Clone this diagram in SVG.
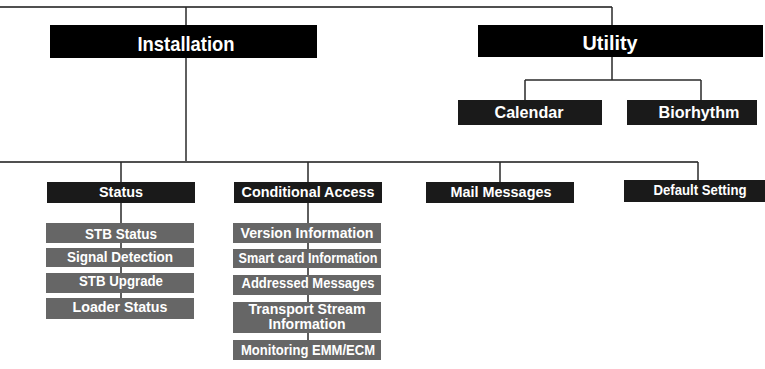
<svg xmlns="http://www.w3.org/2000/svg" width="765" height="369" viewBox="0 0 765 369">
<style>
.ln{stroke:#2a2a2a;stroke-width:1.5;fill:none}
.hl{stroke:#505050;stroke-width:2;fill:none}
.bk{fill:#000}
.dk{fill:#1a1a1a}
.gr{fill:#666}
text{font-family:"Liberation Sans",Arial,sans-serif;font-weight:bold;fill:#fff;text-anchor:middle}
.t1{font-size:21px}
.t2{font-size:16.5px}
.t3{font-size:15px}
.t4{font-size:14px}
</style>
<rect width="765" height="369" fill="#fff"/>
<g id="connectors">
<path class="hl" d="M0 7 H612"/>
<path class="ln" d="M612 7 V25"/>
<path class="ln" d="M186 7 V162"/>
<path class="ln" d="M612 57 V80 M525 80 H701 M525 80 V100 M701 80 V100"/>
<path class="hl" d="M0 162 H698"/>
<path class="ln" d="M698 162 V180"/>
<path class="ln" d="M121 162 V182 M121 203 V298"/>
<path class="ln" d="M308 162 V182 M308 203 V340"/>
<path class="ln" d="M500 162 V182"/>
</g>
<g id="installation"><rect class="bk" x="50" y="25" width="267" height="33"/><text class="t1" x="186" y="51" textLength="97" lengthAdjust="spacingAndGlyphs">Installation</text></g>
<g id="utility"><rect class="bk" x="478" y="25" width="285" height="32"/><text class="t1" x="610" y="50" textLength="55" lengthAdjust="spacingAndGlyphs">Utility</text></g>
<g id="calendar"><rect class="dk" x="458" y="100" width="144" height="25"/><text class="t2" x="529" y="118" textLength="69" lengthAdjust="spacingAndGlyphs">Calendar</text></g>
<g id="biorhythm"><rect class="dk" x="627" y="100" width="130" height="25"/><text class="t2" x="699" y="118" textLength="81" lengthAdjust="spacingAndGlyphs">Biorhythm</text></g>
<g id="status"><rect class="dk" x="47" y="182" width="148" height="21"/><text class="t3" x="121" y="197" textLength="44" lengthAdjust="spacingAndGlyphs">Status</text></g>
<g id="conditional-access"><rect class="dk" x="234" y="182" width="148" height="21"/><text class="t3" x="308" y="197" textLength="133" lengthAdjust="spacingAndGlyphs">Conditional Access</text></g>
<g id="mail-messages"><rect class="dk" x="426" y="182" width="148" height="21"/><text class="t3" x="501" y="197" textLength="101" lengthAdjust="spacingAndGlyphs">Mail Messages</text></g>
<g id="default-setting"><rect class="dk" x="624" y="180" width="141" height="22"/><text class="t3" x="700" y="195" textLength="93" lengthAdjust="spacingAndGlyphs">Default Setting</text></g>
<g id="stb-status"><rect class="gr" x="46" y="223" width="148" height="20"/><text class="t3" x="121" y="239" textLength="72" lengthAdjust="spacingAndGlyphs">STB Status</text></g>
<g id="signal-detection"><rect class="gr" x="46" y="248" width="148" height="19"/><text class="t3" x="120" y="262" textLength="106" lengthAdjust="spacingAndGlyphs">Signal Detection</text></g>
<g id="stb-upgrade"><rect class="gr" x="46" y="273" width="148" height="20"/><text class="t3" x="121" y="286" textLength="84" lengthAdjust="spacingAndGlyphs">STB Upgrade</text></g>
<g id="loader-status"><rect class="gr" x="46" y="298" width="148" height="21"/><text class="t3" x="120" y="312" textLength="95" lengthAdjust="spacingAndGlyphs">Loader Status</text></g>
<g id="version-information"><rect class="gr" x="233" y="223" width="148" height="20"/><text class="t3" x="307" y="238" textLength="133" lengthAdjust="spacingAndGlyphs">Version Information</text></g>
<g id="smart-card-information"><rect class="gr" x="233" y="249" width="148" height="19"/><text class="t3" x="308" y="263" textLength="139" lengthAdjust="spacingAndGlyphs">Smart card Information</text></g>
<g id="addressed-messages"><rect class="gr" x="233" y="275" width="148" height="20"/><text class="t3" x="308" y="288" textLength="133" lengthAdjust="spacingAndGlyphs">Addressed Messages</text></g>
<g id="transport-stream-information"><rect class="gr" x="233" y="302" width="148" height="31"/><text class="t4" x="307" y="313.5" textLength="117" lengthAdjust="spacingAndGlyphs">Transport Stream</text><text class="t4" x="307" y="329" textLength="77" lengthAdjust="spacingAndGlyphs">Information</text></g>
<g id="monitoring-emm-ecm"><rect class="gr" x="233" y="340" width="148" height="20"/><text class="t3" x="308" y="355" textLength="134" lengthAdjust="spacingAndGlyphs">Monitoring EMM/ECM</text></g>
</svg>
